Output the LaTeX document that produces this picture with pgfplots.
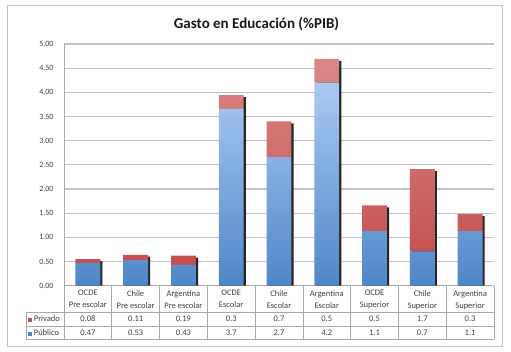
\documentclass[border=0pt]{standalone}
\usepackage{pgfplots}
\pgfplotsset{compat=1.18}
\usepackage{pgfplotstable}
\usepackage{fontspec}
\setmainfont{Carlito}

\definecolor{bluetop}{HTML}{AACAF2}
\definecolor{bluebot}{HTML}{4F86C8}
\definecolor{redtop}{HTML}{DA8886}
\definecolor{redbot}{HTML}{C4504E}
\definecolor{gridc}{HTML}{C2C2C2}
\definecolor{tabc}{HTML}{A8A8A8}
\definecolor{txt}{HTML}{404040}

\pgfplotstableread{
x pub priv
0 0.47 0.08
1 0.53 0.11
2 0.43 0.19
3 3.66 0.28
4 2.66 0.74
5 4.20 0.49
6 1.13 0.53
7 0.71 1.70
8 1.13 0.35
}\data

\newcommand{\smallf}{\fontsize{8.5}{12}\selectfont}

\begin{document}
\begin{tikzpicture}
\path[fill=white,use as bounding box] (0,0) rectangle (511pt,352pt);
\draw[gridc, line width=0.8pt] (7pt,6pt) rectangle (502pt,347pt);
\node[font=\fontsize{15}{17}\selectfont\bfseries, text=black!90] at (256.5pt,328pt) {Gasto en Educación (\%PIB)};

\begin{axis}[
  at={(64pt,66.3pt)}, anchor=south west, scale only axis,
  width=430pt, height=241.7pt,
  xmin=-0.5, xmax=8.5, ymin=0, ymax=5,
  ytick={0,0.5,...,5},
  /pgf/number format/assume math mode=true,
  yticklabel style={/pgf/number format/.cd, fixed, fixed zerofill, precision=2, /tikz/.cd,
     font=\fontsize{8}{10}\selectfont, text=txt, xshift=-7pt},
  xtick={0,...,8},
  xticklabels={{OCDE\\Pre escolar},{Chile\\Pre escolar},{Argentina\\Pre escolar},
               {OCDE\\Escolar},{Chile\\Escolar},{Argentina\\Escolar},
               {OCDE\\Superior},{Chile\\Superior},{Argentina\\Superior}},
  xticklabel style={align=center, font=\smallf, text=txt, yshift=-1pt},
  major tick length=0pt,
  ymajorgrids, grid style={gridc, line width=1.2pt},
  axis x line*=bottom, axis y line*=left,
  axis line style={tabc, line width=0.6pt},
  clip=false,
]
\addplot[ybar, bar width=0.52, bar shift=0.045, fill=black!85, draw=none, forget plot]
  table[x=x, y expr=\thisrow{pub}+\thisrow{priv}-0.04]{\data};
% table lines
\draw[tabc, line width=0.6pt] (axis cs:-0.5,0) -- (axis cs:-0.5,-1.10);
\draw[tabc, line width=0.6pt] (axis cs:-1.295,-0.544) -- (axis cs:8.5,-0.544);
\draw[tabc, line width=0.6pt] (axis cs:-1.295,-0.834) -- (axis cs:8.5,-0.834);
\draw[tabc, line width=0.6pt] (axis cs:-1.295,-1.10) -- (axis cs:8.5,-1.10);
\draw[tabc, line width=0.6pt] (axis cs:-1.295,-0.544) -- (axis cs:-1.295,-1.10);
\pgfplotsinvokeforeach{0.5,1.5,2.5,3.5,4.5,5.5,6.5,7.5,8.5}{
  \draw[tabc, line width=0.6pt] (axis cs:#1,0) -- (axis cs:#1,-1.10);
}
% row labels
\node[anchor=west, font=\smallf, text=txt, inner sep=0pt] at (axis cs:-1.25,-0.69)
  {\textcolor{redbot}{\rule{4pt}{4pt}}\hspace{1.5pt}Privado};
\node[anchor=west, font=\smallf, text=txt, inner sep=0pt] at (axis cs:-1.25,-0.97)
  {\textcolor{bluebot}{\rule{4pt}{4pt}}\hspace{1.5pt}Público};
% values
\node[font=\smallf, text=txt] at (axis cs:0,-0.69) {0.08};
\node[font=\smallf, text=txt] at (axis cs:1,-0.69) {0.11};
\node[font=\smallf, text=txt] at (axis cs:2,-0.69) {0.19};
\node[font=\smallf, text=txt] at (axis cs:3,-0.69) {0.3};
\node[font=\smallf, text=txt] at (axis cs:4,-0.69) {0.7};
\node[font=\smallf, text=txt] at (axis cs:5,-0.69) {0.5};
\node[font=\smallf, text=txt] at (axis cs:6,-0.69) {0.5};
\node[font=\smallf, text=txt] at (axis cs:7,-0.69) {1.7};
\node[font=\smallf, text=txt] at (axis cs:8,-0.69) {0.3};
\node[font=\smallf, text=txt] at (axis cs:0,-0.97) {0.47};
\node[font=\smallf, text=txt] at (axis cs:1,-0.97) {0.53};
\node[font=\smallf, text=txt] at (axis cs:2,-0.97) {0.43};
\node[font=\smallf, text=txt] at (axis cs:3,-0.97) {3.7};
\node[font=\smallf, text=txt] at (axis cs:4,-0.97) {2.7};
\node[font=\smallf, text=txt] at (axis cs:5,-0.97) {4.2};
\node[font=\smallf, text=txt] at (axis cs:6,-0.97) {1.1};
\node[font=\smallf, text=txt] at (axis cs:7,-0.97) {0.7};
\node[font=\smallf, text=txt] at (axis cs:8,-0.97) {1.1};
\end{axis}

\begin{axis}[
  at={(64pt,66.3pt)}, anchor=south west, scale only axis,
  width=430pt, height=241.7pt,
  xmin=-0.5, xmax=8.5, ymin=0, ymax=5,
  hide axis, ybar stacked, bar width=0.52,
]
\addplot[draw=none, top color=bluetop, bottom color=bluebot] table[x=x, y=pub]{\data};
\addplot[draw=none, top color=redtop, bottom color=redbot] table[x=x, y=priv]{\data};
\end{axis}
\end{tikzpicture}
\end{document}
